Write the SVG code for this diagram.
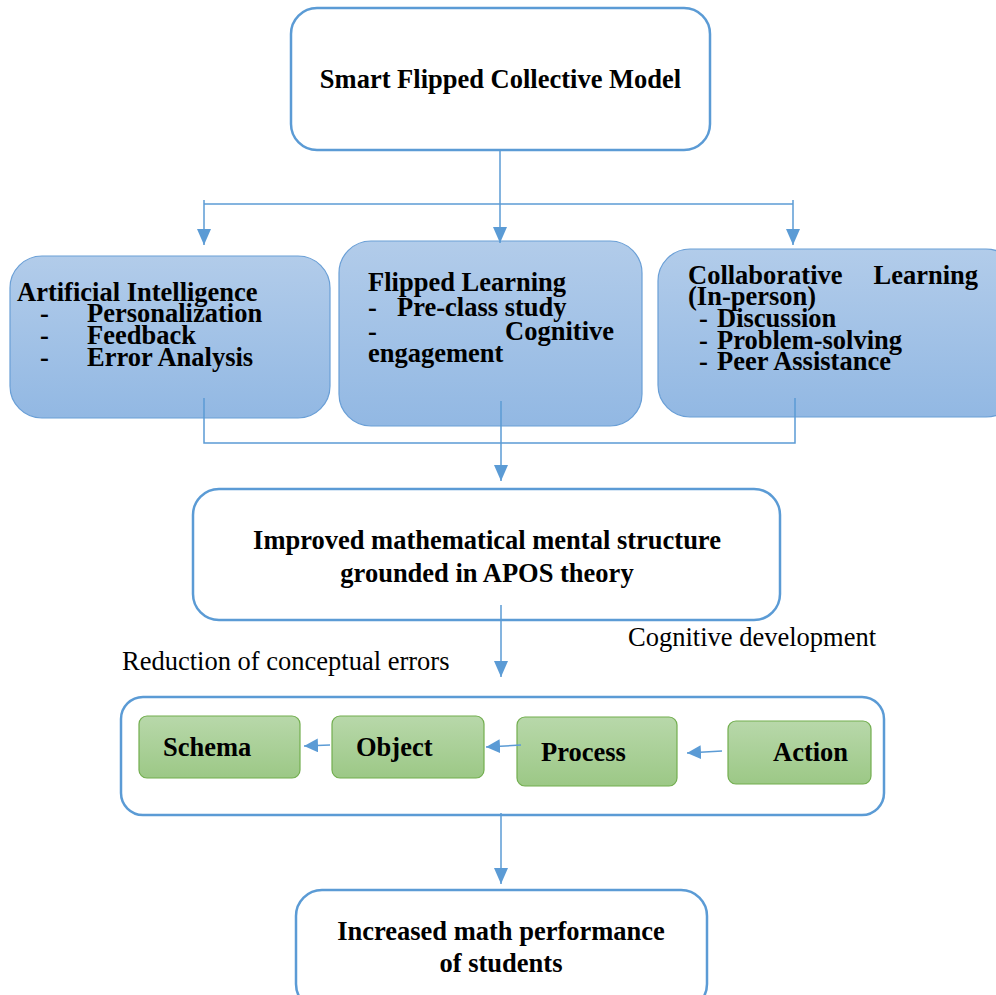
<svg xmlns="http://www.w3.org/2000/svg" width="996" height="995" viewBox="0 0 996 995">
<defs>
<linearGradient id="gb" x1="0" y1="0" x2="0" y2="1"><stop offset="0" stop-color="#B2CCEA"/><stop offset="1" stop-color="#92B8E3"/></linearGradient>
<linearGradient id="gg" x1="0" y1="0" x2="0" y2="1"><stop offset="0" stop-color="#B8D8AA"/><stop offset="1" stop-color="#9CC886"/></linearGradient>
<marker id="ah" viewBox="0 0 16 14" refX="16" refY="7" markerWidth="16" markerHeight="14" orient="auto" markerUnits="userSpaceOnUse"><path d="M0,0 L16,7 L0,14 z" fill="#5B9BD5"/></marker>
<marker id="ahs" viewBox="0 0 14 14" refX="14" refY="7" markerWidth="14" markerHeight="14" orient="auto" markerUnits="userSpaceOnUse"><path d="M0,0 L14,7 L0,14 z" fill="#5B9BD5"/></marker>
</defs>
<style>
text{font-family:"Liberation Serif","Times New Roman",serif;fill:#000}
.b{font-weight:bold;font-size:26.5px}
.n{font-size:26.5px}
.w{fill:#fff;stroke:#5B9BD5;stroke-width:2.5}
.bl{fill:url(#gb);stroke:#6A9FD6;stroke-width:1.2}
.gr{fill:url(#gg);stroke:#72AE4F;stroke-width:1.2}
.c{fill:none;stroke:#5B9BD5;stroke-width:1.5}
</style>
<rect width="996" height="995" fill="#fff"/>

<g id="n-model"><rect class="w" x="291" y="8" width="419" height="142" rx="26"/><text class="b" x="500.5" y="88" text-anchor="middle">Smart Flipped Collective Model</text></g>

<g id="n-ai"><rect class="bl" x="10" y="256" width="320" height="162" rx="32"/>
<text class="b" x="17" y="301">Artificial Intelligence</text>
<text class="b" x="40" y="322">-</text><text class="b" x="87" y="322">Personalization</text>
<text class="b" x="40" y="344">-</text><text class="b" x="87" y="344">Feedback</text>
<text class="b" x="40" y="366">-</text><text class="b" x="87" y="366">Error Analysis</text></g>

<g id="n-flipped"><rect class="bl" x="339" y="241" width="303" height="185" rx="32"/>
<text class="b" x="368" y="291">Flipped Learning</text>
<text class="b" x="368" y="316">-</text><text class="b" x="397" y="316">Pre-class study</text>
<text class="b" x="368" y="340">-</text><text class="b" x="614" y="340" text-anchor="end">Cognitive</text>
<text class="b" x="368" y="362">engagement</text></g>

<g id="n-collab"><rect class="bl" x="658" y="249" width="360" height="168" rx="32"/>
<text class="b" x="688" y="284">Collaborative</text><text class="b" x="978" y="284" text-anchor="end">Learning</text>
<text class="b" x="688" y="305">(In-person)</text>
<text class="b" x="699" y="327">-</text><text class="b" x="717" y="327">Discussion</text>
<text class="b" x="699" y="349">-</text><text class="b" x="717" y="349">Problem-solving</text>
<text class="b" x="699" y="370">-</text><text class="b" x="717" y="370">Peer Assistance</text></g>

<g id="n-apos"><rect class="w" x="193" y="489" width="587" height="131" rx="26"/>
<text class="b" x="487" y="549" text-anchor="middle">Improved mathematical mental structure</text>
<text class="b" x="487" y="582" text-anchor="middle">grounded in APOS theory</text></g>

<g id="l-cog"><text class="n" x="628" y="646">Cognitive development</text></g>
<g id="l-red"><text class="n" x="122" y="670">Reduction of conceptual errors</text></g>

<g id="n-stages"><rect class="w" x="121" y="697" width="763" height="118" rx="22"/></g>
<g id="n-schema"><rect class="gr" x="139" y="716" width="161" height="62" rx="8"/><text class="b" x="163" y="756">Schema</text></g>
<g id="n-object"><rect class="gr" x="332" y="716" width="152" height="62" rx="8"/><text class="b" x="356" y="756">Object</text></g>
<g id="n-process"><rect class="gr" x="517" y="717" width="160" height="69" rx="8"/><text class="b" x="541" y="761">Process</text></g>
<g id="n-action"><rect class="gr" x="728" y="721" width="143" height="63" rx="8"/><text class="b" x="773" y="761">Action</text></g>

<g id="n-perf"><rect class="w" x="296" y="890" width="411" height="120" rx="26"/>
<text class="b" x="501" y="940" text-anchor="middle">Increased math performance</text>
<text class="b" x="501" y="972" text-anchor="middle">of students</text></g>

<g id="connectors">
<path class="c" d="M500,150 V243" marker-end="url(#ah)"/>
<path class="c" d="M204,204 H793"/>
<path class="c" d="M204,200 V245" marker-end="url(#ah)"/>
<path class="c" d="M793,200 V245" marker-end="url(#ah)"/>
<path class="c" d="M204,398 V443 H795 V398"/>
<path class="c" d="M501,401 V481" marker-end="url(#ah)"/>
<path class="c" d="M501,605 V677" marker-end="url(#ah)"/>
<path class="c" d="M330,745 L304,746" marker-end="url(#ahs)"/>
<path class="c" d="M521,745 L486,747" marker-end="url(#ahs)"/>
<path class="c" d="M722,751 L687,753" marker-end="url(#ahs)"/>
<path class="c" d="M501,813 V884" marker-end="url(#ah)"/>
</g>
</svg>
